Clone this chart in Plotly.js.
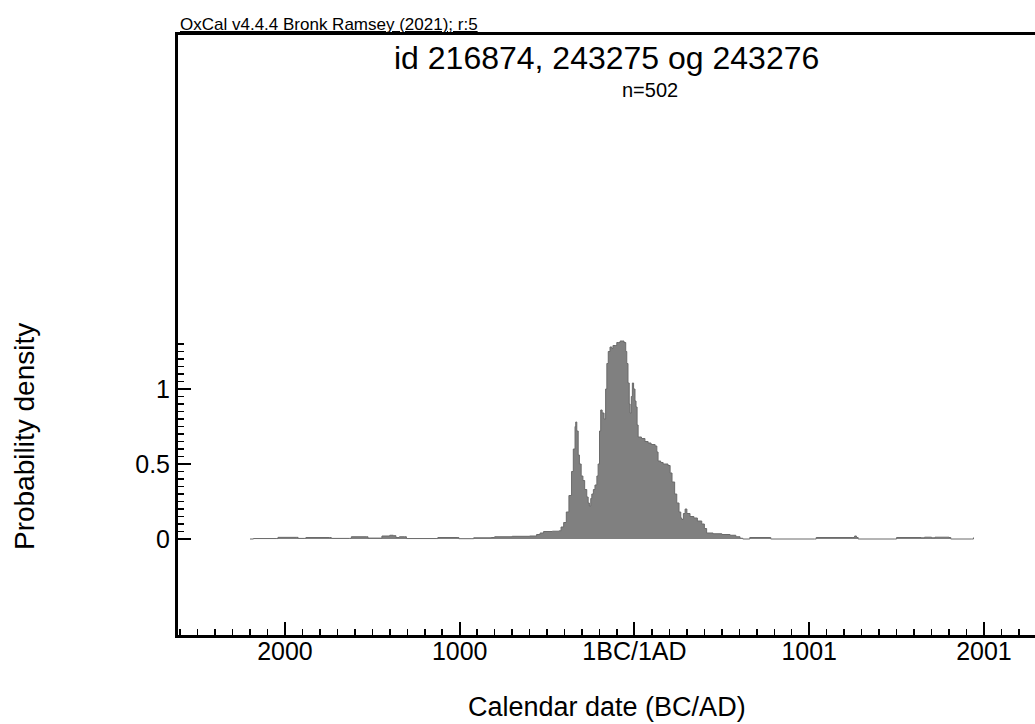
<!DOCTYPE html>
<html>
<head>
<meta charset="utf-8">
<script src="https://cdn.plot.ly/plotly-3.0.1.min.js"></script>
<style>html,body{margin:0;padding:0;background:#fff;}#chart{width:1035px;height:724px;}</style>
</head>
<body>
<div id="chart"></div>
<script>
// Calendar years (negative = BC, 0 = 1BC/1AD boundary)
var years = [
  -2200, -2180, -2050, -2040, -1935, -1925, -1890, -1880, -1745, -1735,
  -1630, -1620, -1535, -1525, -1455, -1445, -1400, -1380, -1365, -1345,
  -1315, -1305, -1135, -1125, -1015, -1005, -930, -920, -820, -800,
  -700, -600, -560, -540, -520, -470, -430, -420, -405, -390,
  -375, -360, -350, -340, -336, -330, -322, -315, -305, -295,
  -285, -273, -265, -258, -250, -244, -235, -226, -215, -208,
  -200, -193, -185, -174, -165, -158, -150, -140, -130, -123,
  -110, -101, -90, -82, -70, -60, -50, -44, -37, -30,
  -25, -18, -12, -5, 3, 9, 15, 21, 30, 40,
  49, 60, 78, 95, 118, 128, 135, 150, 164, 180,
  192, 204, 215, 230, 242, 255, 265, 271, 280, 290,
  300, 318, 340, 360, 385, 400, 413, 450, 500, 547,
  580, 604, 620, 650, 660, 770, 780, 1030, 1040, 1250,
  1260, 1270, 1280, 1490, 1500, 1640, 1660, 1700, 1720, 1800,
  1810, 1930, 1940
];
// Probability density
var density = [
  0.000, 0.003, 0.003, 0.011, 0.011, 0.004, 0.004, 0.010, 0.010, 0.004,
  0.004, 0.015, 0.015, 0.006, 0.006, 0.020, 0.025, 0.022, 0.010, 0.015,
  0.015, 0.003, 0.003, 0.010, 0.010, 0.002, 0.002, 0.008, 0.010, 0.015,
  0.018, 0.020, 0.030, 0.040, 0.050, 0.052, 0.055, 0.080, 0.110, 0.180,
  0.290, 0.450, 0.600, 0.750, 0.780, 0.720, 0.560, 0.500, 0.420, 0.390,
  0.330, 0.280, 0.240, 0.220, 0.270, 0.300, 0.330, 0.360, 0.420, 0.500,
  0.720, 0.860, 0.840, 0.800, 1.000, 1.170, 1.250, 1.280, 1.270, 1.290,
  1.290, 1.310, 1.310, 1.320, 1.320, 1.310, 1.250, 1.170, 1.040, 0.900,
  0.840, 0.950, 1.040, 1.000, 0.920, 0.880, 0.760, 0.680, 0.680, 0.670,
  0.670, 0.650, 0.640, 0.630, 0.620, 0.580, 0.520, 0.510, 0.500, 0.500,
  0.490, 0.440, 0.380, 0.300, 0.240, 0.180, 0.140, 0.130, 0.170, 0.200,
  0.170, 0.150, 0.140, 0.120, 0.100, 0.070, 0.040, 0.035, 0.030, 0.025,
  0.015, 0.005, 0.000, 0.000, 0.010, 0.010, 0.000, 0.000, 0.010, 0.010,
  0.020, 0.010, 0.000, 0.000, 0.010, 0.008, 0.012, 0.008, 0.012, 0.010,
  0.000, 0.000, 0.010
];
var xTickVals = [-2000, -1000, 0, 1000, 2000];
var xTickText = ['2000', '1000', '1BC/1AD', '1001', '2001'];
var yTickVals = [0, 0.5, 1];
var yTickText = ['0', '0.5', '1'];

var xMinor = [];
for (var v = -2600; v <= 2300; v += 100) { if (v % 1000 !== 0) xMinor.push(v); }
var yMinor = [];
for (var k = 1; k <= 26; k++) { if (k % 10 !== 0) yMinor.push(+(k * 0.05).toFixed(2)); }

var FONT = 'Liberation Sans, Arial, Helvetica, sans-serif';

var trace = {
  x: years, y: density, type: 'scatter', mode: 'lines',
  fill: 'tozeroy', fillcolor: '#808080',
  line: {color: '#6a6a6a', width: 1, shape: 'hv'},
  hoverinfo: 'skip'
};

var layout = {
  width: 1035, height: 724,
  margin: {l: 178, r: 0, t: 35, b: 89, pad: 0},
  paper_bgcolor: '#ffffff', plot_bgcolor: '#ffffff',
  showlegend: false,
  font: {family: FONT, color: '#000'},
  xaxis: {
    range: [-2612, 2292], tickmode: 'array', tickvals: xTickVals, ticktext: xTickText,
    ticks: 'inside', ticklen: 13, tickwidth: 2, tickcolor: '#000',
    ticklabelstandoff: -8,
    showline: true, linewidth: 3, linecolor: '#000', mirror: true,
    showgrid: false, zeroline: false,
    tickfont: {family: FONT, size: 25, color: '#000'},
    minor: {tickmode: 'array', tickvals: xMinor, ticks: 'inside', ticklen: 6, tickwidth: 1.5, tickcolor: '#000', showgrid: false}
  },
  yaxis: {
    range: [-0.64, 3.36], tickmode: 'array', tickvals: yTickVals, ticktext: yTickText,
    ticks: 'inside', ticklen: 13, tickwidth: 2, tickcolor: '#000',
    showline: true, linewidth: 3, linecolor: '#000',
    showgrid: false, zeroline: false,
    tickfont: {family: FONT, size: 25, color: '#000'},
    minor: {tickmode: 'array', tickvals: yMinor, ticks: 'inside', ticklen: 6, tickwidth: 1.5, tickcolor: '#000', showgrid: false}
  },
  annotations: [
    {text: 'id 216874, 243275 og 243276', xref: 'paper', yref: 'paper', x: 0.5, y: 0.962,
     xanchor: 'center', yanchor: 'middle', showarrow: false, font: {family: FONT, size: 32, color: '#000'}},
    {text: 'n=502', xref: 'paper', yref: 'paper', x: 0.5508, y: 0.908,
     xanchor: 'center', yanchor: 'middle', showarrow: false, font: {family: FONT, size: 20, color: '#000'}},
    {text: '<u>OxCal v4.4.4 Bronk Ramsey (2021); r:5</u>', xref: 'paper', yref: 'paper', x: 0, y: 1.018,
     xanchor: 'left', yanchor: 'middle', showarrow: false, font: {family: FONT, size: 17, color: '#000'}},
    {text: 'Probability density', xref: 'paper', yref: 'paper', x: -0.1785, y: 0.33, textangle: -90,
     xanchor: 'center', yanchor: 'middle', showarrow: false, font: {family: FONT, size: 28, color: '#000'}},
    {text: 'Calendar date (BC/AD)', xref: 'paper', yref: 'paper', x: 0.5, y: -0.12,
     xanchor: 'center', yanchor: 'middle', showarrow: false, font: {family: FONT, size: 27, color: '#000'}}
  ]
};

Plotly.newPlot('chart', [trace], layout, {displayModeBar: false, staticPlot: true});
</script>
</body>
</html>
